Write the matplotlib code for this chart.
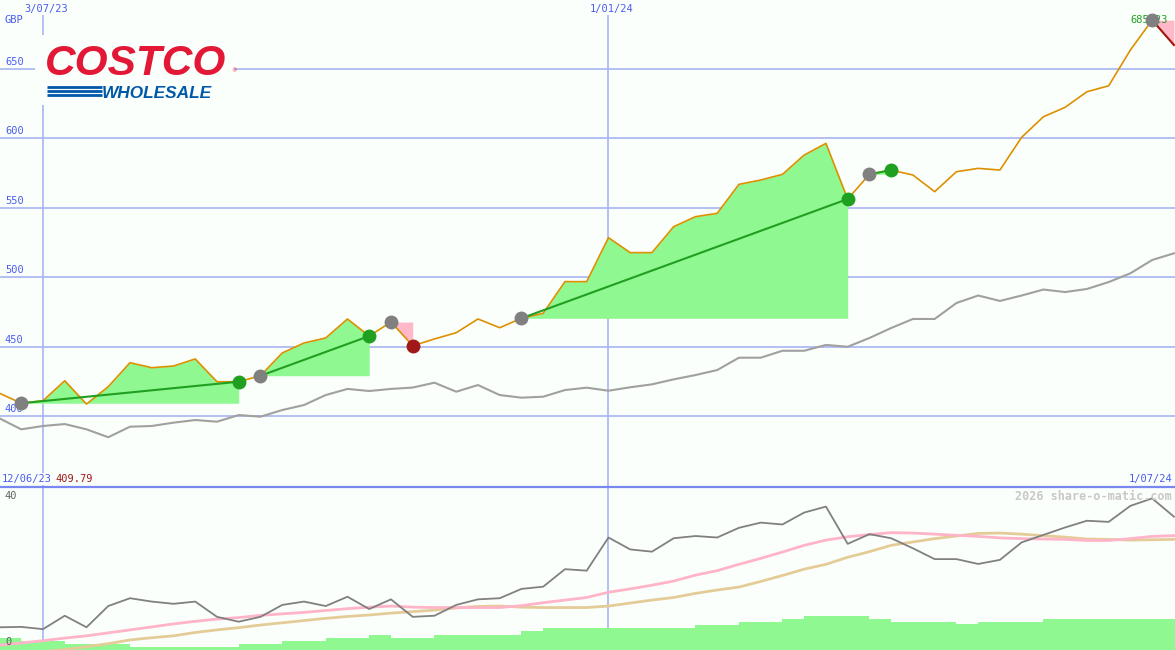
#!/usr/bin/env python3
"""Costco weekly share price (GBP) with trade markers and an indicator panel below."""

import matplotlib

matplotlib.use("Agg")
import matplotlib.pyplot as plt
import numpy as np

W, H = 1175, 650

# weeks counted from 3/07/23
weeks = np.arange(-2, 53)

price = [416.4, 409.2, 411.0, 425.4, 408.6, 421.1, 438.4, 434.8, 436.0, 441.1,
         424.7, 424.7, 429.0, 445.4, 452.6, 456.2, 469.9, 457.6, 467.7, 450.6,
         455.5, 460.0, 469.9, 463.6, 470.4, 474.0, 496.8, 496.8, 528.5, 517.7,
         517.7, 536.4, 543.6, 546.0, 566.9, 570.0, 574.1, 588.0, 596.4, 556.3,
         574.1, 577.2, 573.6, 561.6, 576.0, 578.4, 577.2, 600.8, 615.6, 622.4,
         633.6, 637.9, 663.7, 685.2, 667.3]

benchmark = [398.3, 390.4, 392.8, 394.2, 390.4, 384.7, 392.3, 392.8, 395.2, 397.1,
             395.9, 400.7, 399.5, 404.3, 407.9, 415.1, 419.5, 418.0, 419.5, 420.5,
             424.0, 417.5, 422.3, 415.1, 413.2, 413.9, 418.7, 420.4, 418.2, 420.7,
             422.8, 426.4, 429.5, 433.1, 442.0, 442.0, 447.0, 447.0, 451.2, 449.9,
             456.2, 463.4, 469.9, 469.9, 481.4, 486.8, 482.9, 486.8, 491.1, 489.3,
             491.5, 496.5, 502.8, 512.4, 517.2]

oscillator = [6.1, 6.2, 5.6, 9.2, 6.1, 11.8, 13.9, 13.0, 12.4, 13.0,
              8.9, 7.6, 8.9, 12.1, 13.0, 11.8, 14.3, 11.0, 13.6, 8.9,
              9.2, 12.1, 13.6, 13.9, 16.4, 17.0, 21.7, 21.3, 30.2, 27.0,
              26.4, 30.0, 30.6, 30.2, 32.8, 34.2, 33.7, 36.9, 38.5, 28.5,
              31.1, 30.0, 27.3, 24.4, 24.4, 23.1, 24.2, 28.9, 30.9, 32.9,
              34.7, 34.4, 38.7, 40.7, 35.8]

avg_fast = [1.3, 1.9, 2.5, 3.2, 3.8, 4.6, 5.4, 6.2, 7.0, 7.7,
            8.3, 8.7, 9.3, 9.7, 10.1, 10.6, 11.1, 11.5, 11.8, 11.5,
            11.4, 11.4, 11.4, 11.4, 11.9, 12.7, 13.4, 14.1, 15.5, 16.4,
            17.4, 18.5, 20.1, 21.3, 23.0, 24.6, 26.3, 28.1, 29.5, 30.4,
            31.0, 31.5, 31.4, 31.1, 30.8, 30.5, 30.1, 29.9, 29.8, 29.7,
            29.4, 29.4, 29.9, 30.5, 30.7]

avg_slow = [-1.3, -0.8, -0.4, 0.1, 0.9, 1.7, 2.7, 3.3, 3.8, 4.7,
            5.4, 6.0, 6.7, 7.3, 7.9, 8.5, 9.0, 9.4, 9.9, 10.3,
            10.7, 11.3, 11.7, 11.8, 11.5, 11.4, 11.4, 11.4, 11.8, 12.6,
            13.4, 14.1, 15.2, 16.1, 16.9, 18.4, 20.0, 21.7, 23.0, 24.9,
            26.4, 28.1, 29.0, 29.9, 30.6, 31.3, 31.4, 31.1, 30.7, 30.3,
            29.8, 29.7, 29.5, 29.6, 29.7]

volume = [3.3, 2.4, 2.4, 1.6, 1.6, 1.6, 0.7, 0.7, 0.7, 0.7,
          0.7, 1.6, 1.6, 2.4, 2.4, 3.3, 3.3, 4.0, 3.3, 3.3,
          4.0, 4.0, 4.0, 4.0, 5.1, 6.0, 6.0, 6.0, 6.0, 6.0,
          6.0, 6.0, 6.7, 6.7, 7.5, 7.5, 8.3, 9.1, 9.1, 9.1,
          8.3, 7.6, 7.6, 7.6, 6.9, 7.6, 7.6, 7.6, 8.3, 8.3,
          8.3, 8.3, 8.3, 8.3, 8.3]

# trades: entry week, exit week
trade_entry = [-1, 10, 16, 22, 38, 51]
trade_exit = [9, 15, 17, 37, 39, 52]

price_levels = [400, 450, 500, 550, 600, 650]
date_weeks = [0, 26]
date_labels = ["3/07/23", "1/01/24"]

BG = "#fbfffb"
GRID = "#a8b4f2"
LABEL = "#4a5cf0"
MONO = "DejaVu Sans Mono"


def px(x, y):
    """Pixel position (from top-left) to figure fraction."""
    return x / W, 1 - y / H


def main() -> None:
    fig = plt.figure(figsize=(W / 100, H / 100), dpi=100)
    fig.patch.set_facecolor(BG)

    split = 487
    ax = fig.add_axes([0, (H - split) / H, 1, split / H])
    lo = fig.add_axes([0, 0, 1, (H - split) / H])
    for a in (ax, lo):
        a.set_facecolor(BG)
        a.set_xlim(-1.977, 52.05)
        a.set_xticks([])
        a.set_yticks([])
        for s in a.spines.values():
            s.set_visible(False)
    ax.set_ylim(348.85, 699.7)
    lo.set_ylim(0, 43.76)
    lo.spines["top"].set_visible(True)
    lo.spines["top"].set_color("#7888f0")
    lo.spines["top"].set_linewidth(1.6)

    x = weeks
    p = np.array(price)

    # grid
    for lv in price_levels:
        ax.axhline(lv, color=GRID, lw=1.2, zorder=1)
        ax.text(-1.75, lv + 1.5, str(lv), color=LABEL, fontsize=7.5,
                family=MONO, va="bottom", ha="left", zorder=3)
    ax.vlines(date_weeks, 348.85, 689, color=GRID, lw=1.2, zorder=1)
    lo.vlines(date_weeks, 0, 43.76, color=GRID, lw=1.2, zorder=1)
    for wk, lab in zip(date_weeks, date_labels):
        ax.text(wk + 0.15, 693, lab, color=LABEL, fontsize=7.5, family=MONO,
                ha="center", va="center", zorder=3)
    ax.text(-1.75, 685.5, "GBP", color=LABEL, fontsize=7.5, family=MONO,
            ha="left", va="center", zorder=3)

    # trade shading
    for e, q in zip(trade_entry, trade_exit):
        sel = (x >= e) & (x <= q)
        base = p[e + 2]
        if p[q + 2] >= base:
            ax.fill_between(x[sel], base, np.maximum(p[sel], base),
                            color="#90f890", lw=0, zorder=2)
        else:
            ax.fill_between(x[sel], np.minimum(p[sel], base), base,
                            color="#ffb8c8", lw=0, zorder=2)

    ax.plot(x, benchmark, color="#a0a0a0", lw=1.5, zorder=3)
    ax.plot(x, p, color="#dc9000", lw=1.2, zorder=4)

    for e, q in zip(trade_entry, trade_exit):
        pe, pq = p[e + 2], p[q + 2]
        if pq >= pe:
            ax.plot([e, q], [pe, pq], color="#20a020", lw=1.5, zorder=5)
            ax.plot(q, pq, "o", color="#20a020", ms=9, zorder=7)
        elif q == 52:
            ax.plot([e, q], [pe, pq], color="#a01818", lw=1.5, zorder=5)
        else:
            ax.plot(q, pq, "o", color="#a01818", ms=9, zorder=7)
        ax.plot(e, pe, "o", color="#808080", ms=9, zorder=7)

    ax.text(51.7, p[-2], "685.23", color="#20a020", fontsize=7.5,
            family=MONO, ha="right", va="center", zorder=6)

    # lower panel
    lo.bar(x, volume, width=1.0, align="edge", color="#90f890", lw=0, zorder=2)
    lo.plot(x, avg_slow, color="#e4cc98", lw=2.0, zorder=3)
    lo.plot(x, avg_fast, color="#ffb4c8", lw=2.0, zorder=3)
    lo.plot(x, oscillator, color="#808080", lw=1.3, zorder=4)
    lo.text(-1.75, 40, "40", color="#606060", fontsize=7.5, family=MONO,
            ha="left", va="bottom")
    lo.text(-1.75, 0.8, "0", color="#606060", fontsize=7.5, family=MONO,
            ha="left", va="bottom", zorder=5)

    fig.text(*px(1172, 496), "2026 share-o-matic.com", color="#c8c8c8",
             fontsize=8.5, family=MONO, fontweight="bold", ha="right", va="center")
    fig.text(*px(2, 479), "12/06/23", color=LABEL, fontsize=7.5, family=MONO,
             ha="left", va="center",
             bbox=dict(facecolor=BG, edgecolor="none", pad=0.5))
    fig.text(*px(55, 479), "409.79", color="#a01818", fontsize=7.5, family=MONO,
             ha="left", va="center")
    fig.text(*px(1172, 479), "1/07/24", color=LABEL, fontsize=7.5, family=MONO,
             ha="right", va="center")

    # logo
    lax = fig.add_axes([35 / W, 1 - 105 / H, 200 / W, 70 / H])
    lax.set_facecolor(BG)
    lax.set_xlim(35, 235)
    lax.set_ylim(105, 35)
    lax.set_xticks([])
    lax.set_yticks([])
    for s in lax.spines.values():
        s.set_visible(False)
    lax.text(45, 75, "COSTCO", color="#e31837", fontsize=30.5,
             family="Liberation Sans", fontweight="bold", style="italic",
             ha="left", va="baseline")
    lax.text(231, 72, "®", color="#e31837", fontsize=4, ha="left", va="baseline")
    lax.hlines([87.0, 91.0, 95.0], 46.7, 101.7, color="#0058a8", lw=2.0)
    lax.text(102, 98.5, "WHOLESALE", color="#0058a8", fontsize=12.4,
             family="Liberation Sans", fontweight="bold", style="italic",
             ha="left", va="baseline")

    fig.savefig("out.png", dpi=100, facecolor=BG)


if __name__ == "__main__":
    main()
